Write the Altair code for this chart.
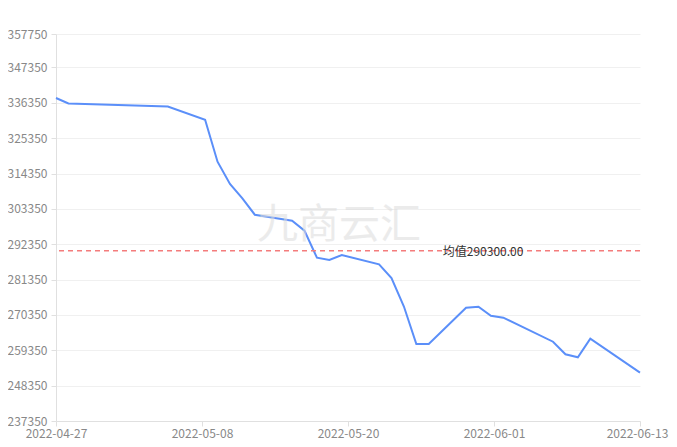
import altair as alt
import pandas as pd

dates = ["2022-04-27", "2022-04-28", "2022-05-06", "2022-05-09", "2022-05-10",
         "2022-05-11", "2022-05-12", "2022-05-13", "2022-05-16", "2022-05-17",
         "2022-05-18", "2022-05-19", "2022-05-20", "2022-05-23", "2022-05-24",
         "2022-05-25", "2022-05-26", "2022-05-27", "2022-05-30", "2022-05-31",
         "2022-06-01", "2022-06-02", "2022-06-06", "2022-06-07", "2022-06-08",
         "2022-06-09", "2022-06-13"]
prices = [337840, 336130, 335190, 331090, 318020,
          311080, 306630, 301530, 299660, 296550,
          288150, 287440, 288990, 286100, 281840,
          272970, 261300, 261300, 272600, 272910,
          270110, 269490, 262020, 258100, 257170,
          262950, 252380]
mean_value = 290300
mean_label = "均值290300.00"
watermark = "九商云汇"
y_ticks = [237350, 248350, 259350, 270350, 281350, 292350, 303350,
           314350, 325350, 336350, 347350, 357750]
y_domain = [237350, 357750]

df = pd.DataFrame({"date": dates, "price": prices})
one = pd.DataFrame({"k": [0]})

x_ticks = [
    alt.DateTime(year=2022, month=4, date=27, utc=True),
    alt.DateTime(year=2022, month=5, date=8, hours=18, utc=True),
    alt.DateTime(year=2022, month=5, date=20, hours=12, utc=True),
    alt.DateTime(year=2022, month=6, date=1, hours=6, utc=True),
    alt.DateTime(year=2022, month=6, date=13, utc=True),
]
x_scale = alt.Scale(type="utc", domain=[x_ticks[0], x_ticks[-1]])
y_scale = alt.Scale(domain=y_domain, nice=False, zero=False)

font = "Noto Sans CJK SC"

x_axis = alt.Axis(values=x_ticks, labelExpr="utcFormat(datum.value, '%Y-%m-%d')",
                  title=None, grid=False, labelColor="#888888", labelFont=font,
                  labelFontSize=12, tickColor="#e0e0e0", domainColor="#e0e0e0",
                  tickSize=5, labelPadding=2, labelFlush=False, labelOverlap=False,
                  labelOffset={"condition": {"test": "datum.index == 1", "value": -3},
                               "value": 0})
y_axis = alt.Axis(values=y_ticks, format="d", title=None, grid=True,
                  gridColor="#f0f0f0", labelColor="#888888", labelFont=font,
                  labelFontSize=12, tickColor="#e0e0e0", domainColor="#e0e0e0",
                  tickSize=5, labelPadding=4, labelOverlap=False)

line = alt.Chart(df).mark_line(color="#5B8FF9", strokeWidth=2).encode(
    x=alt.X("date:T", scale=x_scale, axis=x_axis),
    y=alt.Y("price:Q", scale=y_scale, axis=y_axis),
)

rule = alt.Chart(one).mark_rule(color="#F47C7C", strokeWidth=1.5, strokeDash=[5, 4]).encode(
    y=alt.Y(datum=mean_value, type="quantitative", scale=y_scale, axis=y_axis),
)

label = alt.Chart(one).mark_text(align="left", baseline="middle", fontSize=12,
                                font=font, color="#333333", dy=1).encode(
    x=alt.X(datum=alt.DateTime(year=2022, month=5, date=28, hours=3, utc=True),
            type="temporal", scale=x_scale, axis=x_axis),
    y=alt.Y(datum=mean_value, type="quantitative", scale=y_scale, axis=y_axis),
    text=alt.value(mean_label),
)

wm = alt.Chart(one).mark_text(align="center", baseline="middle", fontSize=41,
                             font=font, color="#dcdcdc", opacity=0.55).encode(
    x=alt.value(283),
    y=alt.value(192),
    text=alt.value(watermark),
)

chart = alt.layer(line, rule, label, wm).properties(
    width=584, height=387,
    autosize=alt.AutoSizeParams(type="none"),
    padding={"left": 48, "top": 26, "right": 29, "bottom": 18},
).configure_view(stroke=None)

chart.save("out.html", embed_options={"renderer": "svg", "actions": False})
